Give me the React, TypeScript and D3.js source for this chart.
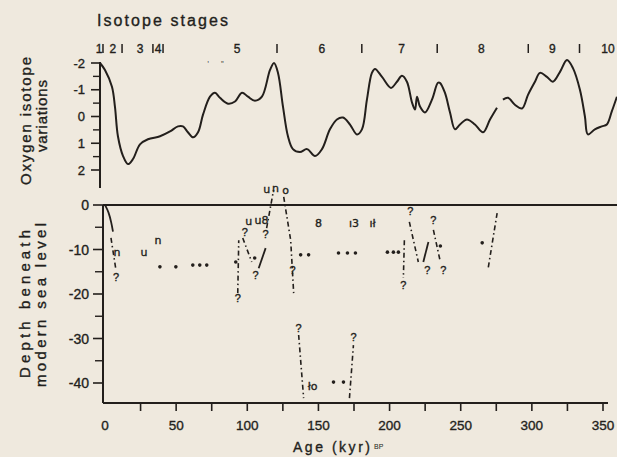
import React, { useEffect } from 'react';
import * as d3 from 'd3';

const W = 617;
const H = 457;
const INK = '#231f1c';
const PAPER = '#efe9de';
const FONT = '"Liberation Sans", Arial, sans-serif';

// Oxygen isotope curve (two pieces, the printed line has a small gap near 280 kyr)
const oxygenAgesA = [0, 3.5, 8.4, 10.5, 12.6, 16.2, 19.7, 23.2, 28.1, 33.7, 42.2, 49.2, 54.8, 58.3, 61.8, 65.4, 68.9, 72.4, 77.3, 80.8, 84.3, 90.0, 94.9, 99.8, 104.0, 108.9, 113.8, 119.5, 122.3, 125.1, 128.6, 132.1, 135.6, 140.5, 145.5, 151.1, 156.0, 161.6, 166.5, 170.8, 175.7, 180.6, 184.1, 187.6, 191.1, 193.3, 198.2, 204.5, 208.7, 212.2, 215.7, 219.3, 221.4, 222.8, 224.9, 228.4, 233.3, 237.5, 238.9, 242.4, 246.0, 249.5, 253.0, 257.9, 263.5, 269.2, 274.1, 279.0];
const oxygenValuesA = [-2.0, -1.74, -1.11, -0.37, 0.74, 1.48, 1.78, 1.59, 1.04, 0.85, 0.74, 0.56, 0.37, 0.37, 0.59, 0.78, 0.59, -0.07, -0.74, -0.89, -0.7, -0.48, -0.56, -0.89, -0.74, -0.59, -0.74, -1.74, -2.0, -1.63, -0.37, 0.74, 1.22, 1.33, 1.22, 1.48, 1.22, 0.48, 0.11, 0.04, 0.3, 0.67, 0.48, -0.63, -1.63, -1.78, -1.48, -1.07, -1.3, -1.52, -1.3, -0.52, -0.26, -0.74, -0.37, -0.15, -0.63, -1.26, -1.26, -0.89, -0.15, 0.48, 0.3, 0.11, 0.3, 0.59, 0.11, -0.33];
const oxygenAgesB = [283.2, 286.7, 291.6, 296.6, 300.8, 305.7, 309.2, 314.1, 318.3, 323.3, 328.2, 332.4, 337.3, 340.8, 342.9, 347.8, 352.7, 356.2, 359.7, 363.3];
const oxygenValuesB = [-0.63, -0.7, -0.44, -0.3, -0.81, -1.3, -1.63, -1.48, -1.3, -1.67, -2.11, -1.81, -1.0, 0.0, 0.67, 0.48, 0.37, 0.3, -0.19, -0.74];

// Isotope stages
const stageLabels = ['1', '2', '3', '4', '5', '6', '7', '8', '9', '10'];
const stageLabelAges = [-0.7, 9.1, 28.1, 40.8, 96.3, 156, 212, 268, 318, 357];
const stageBoundaryAges = [2.1, 15.5, 37.2, 44.3, 124.4, 184, 237, 301, 337];
const substageMarkAges = [76, 86];

// Axis ticks
const oxygenTicks = [-2, -1, 0, 1, 2];
const oxygenTickLabels = ['-2', '-1', '0', '1', '2'];
const oxygenMinorTicks = [-1.5, -0.5, 0.5, 1.5];
const depthTicks = [0, -10, -20, -30, -40];
const depthTickLabels = ['0', '-10', '-20', '-30', '-40'];
const depthMinorTicks = [-5, -15, -25, -35];
const ageTicks = [0, 50, 100, 150, 200, 250, 300, 350];
const ageMinorTicks = [25, 50, 75, 100, 125, 150, 175, 200, 225, 250, 275, 300, 325, 350];

// Sea-level evidence
const solidAges = [[0, 2.5, 4.5, 5.6], [108.0, 112.9], [223.7, 227.3]];
const solidDepths = [[0, -1.5, -4.0, -6.0], [-14.2, -9.7], [-12.8, -8.3]];

const dashedAges = [
  [4.2, 7.7], [93.3, 94.0], [96.8, 103.1], [113.6, 118.5], [125.6, 130.5, 132.6],
  [136.1, 139.6], [171.8, 174.6], [210.4, 209.7], [213.9, 220.2], [230.8, 235.7], [275.6, 269.3],
];
const dashedDepths = [
  [-7.4, -14.6], [-19.8, -7.9], [-7.4, -12.8], [-5.2, 3.4], [1.8, -7.9, -19.8],
  [-29.2, -43.4], [-43.4, -31.5], [-7.9, -16.4], [-3.8, -12.8], [-5.6, -12.8], [-1.8, -14.2],
];

const dotAges = [38.6, 49.8, 61.7, 66.6, 71.5, 91.9, 105.2, 137.5, 143.1, 164.1, 170.4, 176.0, 198.5, 202.7, 206.2, 235.7, 265.1, 160.6, 167.6];
const dotDepths = [-13.9, -13.9, -13.5, -13.5, -13.5, -12.8, -11.9, -11.2, -11.2, -10.8, -10.8, -10.8, -10.6, -10.6, -10.6, -9.2, -8.5, -39.8, -39.8];

const glyphAges = [8.4, 27.4, 37.2, 101, 110.0, 113.6, 119.9, 127, 150.1, 172.5, 176, 188, 145.9];
const glyphDepths = [-10.6, -10.6, -7.9, -3.6, -3.5, 3.6, 3.8, 3.4, -4.0, -4.0, -4.0, -4.0, -40.7];
const glyphTexts = ['n', 'u', 'n', 'u', 'u8', 'u', 'n', 'o', '8', 'ı', '3', 'ıł', 'ło'];

const queryAges = [7.7, 98.2, 112.9, 105.9, 93.3, 131.9, 136.1, 174.7, 209.7, 214.6, 226.6, 230.8, 237.8];
const queryDepths = [-16.2, -6.1, -6.5, -15.7, -20.9, -14.6, -27.6, -29.7, -18.0, -1.3, -14.6, -3.4, -14.6];

export default function App() {
  useEffect(() => {
    document.body.style.margin = '0';
    document.body.style.background = PAPER;
  }, []);

  const xTop = d3.scaleLinear().domain([0, 350]).range([100, 598]);
  const yTop = d3.scaleLinear().domain([-2, 2]).range([63, 170]);
  const xLow = d3.scaleLinear().domain([0, 350]).range([105, 603]);
  const yLow = d3.scaleLinear().domain([0, -40]).range([205, 383]);

  const topAxisX = 100;
  const topAxisBottom = 188;
  const lowAxisX = 103;
  const lowAxisBottom = 403;

  const curve = d3
    .line<[number, number]>()
    .x((d) => xTop(d[0]))
    .y((d) => yTop(d[1]))
    .curve(d3.curveCatmullRom.alpha(0.5));
  const lowLine = d3
    .line<[number, number]>()
    .x((d) => xLow(d[0]))
    .y((d) => yLow(d[1]));
  const lowCurve = d3
    .line<[number, number]>()
    .x((d) => xLow(d[0]))
    .y((d) => yLow(d[1]))
    .curve(d3.curveBasis);

  const pathA = curve(d3.zip(oxygenAgesA, oxygenValuesA) as [number, number][]) || '';
  const pathB = curve(d3.zip(oxygenAgesB, oxygenValuesB) as [number, number][]) || '';

  const txt = { fill: INK, stroke: INK, strokeWidth: 0.35 };

  return (
    <svg width={W} height={H} style={{ display: 'block', background: PAPER }} fontFamily={FONT}>
      <rect x={0} y={0} width={W} height={H} fill={PAPER} />

      {/* Title and stage row */}
      <text x={97} y={26} fontSize={16} {...txt} textLength={131} lengthAdjust="spacing">
        Isotope stages
      </text>
      {stageLabels.map((s, i) => (
        <text key={'sl' + i} x={xTop(stageLabelAges[i])} y={53} fontSize={12} {...txt} textAnchor="middle">
          {s}
        </text>
      ))}
      {stageBoundaryAges.map((a, i) => (
        <line key={'sb' + i} x1={xTop(a)} x2={xTop(a)} y1={44} y2={53} stroke={INK} strokeWidth={1.5} />
      ))}
      {substageMarkAges.map((a, i) => (
        <text key={'ss' + i} x={xTop(a)} y={62} fontSize={8} fill={INK} textAnchor="middle">
          {i === 0 ? '‚' : '„'}
        </text>
      ))}

      {/* Upper panel axis */}
      <line x1={topAxisX} x2={topAxisX} y1={yTop(-2) - 1} y2={topAxisBottom} stroke={INK} strokeWidth={2} />
      {oxygenTicks.map((t, i) => (
        <g key={'ot' + i}>
          <line x1={topAxisX - 9} x2={topAxisX} y1={yTop(t)} y2={yTop(t)} stroke={INK} strokeWidth={1.6} />
          <text x={85} y={yTop(t)} dy="0.36em" fontSize={13} {...txt} textAnchor="end">
            {oxygenTickLabels[i]}
          </text>
        </g>
      ))}
      {oxygenMinorTicks.map((t, i) => (
        <line key={'om' + i} x1={topAxisX - 7} x2={topAxisX} y1={yTop(t)} y2={yTop(t)} stroke={INK} strokeWidth={1.4} />
      ))}
      <path d={pathA} fill="none" stroke={INK} strokeWidth={2} strokeLinejoin="round" />
      <path d={pathB} fill="none" stroke={INK} strokeWidth={2} strokeLinejoin="round" />

      {/* Upper y label */}
      <text transform="translate(31,121) rotate(-90)" fontSize={15} {...txt} textAnchor="middle" textLength={128} lengthAdjust="spacing">
        Oxygen isotope
      </text>
      <text transform="translate(47,116) rotate(-90)" fontSize={15} {...txt} textAnchor="middle" textLength={72} lengthAdjust="spacing">
        variations
      </text>

      {/* Lower panel frame */}
      <line x1={lowAxisX} x2={W} y1={yLow(0)} y2={yLow(0)} stroke={INK} strokeWidth={2} />
      <line x1={lowAxisX} x2={lowAxisX} y1={yLow(0)} y2={lowAxisBottom} stroke={INK} strokeWidth={2} />
      <line x1={lowAxisX} x2={608} y1={lowAxisBottom} y2={lowAxisBottom} stroke={INK} strokeWidth={2} />
      {depthTicks.map((t, i) => (
        <g key={'dt' + i}>
          <line x1={lowAxisX - 10} x2={lowAxisX} y1={yLow(t)} y2={yLow(t)} stroke={INK} strokeWidth={1.6} />
          <text x={89} y={yLow(t)} dy="0.36em" fontSize={14} {...txt} textAnchor="end">
            {depthTickLabels[i]}
          </text>
        </g>
      ))}
      {depthMinorTicks.map((t, i) => (
        <line key={'dm' + i} x1={lowAxisX - 8} x2={lowAxisX} y1={yLow(t)} y2={yLow(t)} stroke={INK} strokeWidth={1.4} />
      ))}
      {ageMinorTicks.map((t, i) => (
        <line key={'am' + i} x1={xLow(t)} x2={xLow(t)} y1={lowAxisBottom} y2={lowAxisBottom + 8} stroke={INK} strokeWidth={1.6} />
      ))}
      {ageTicks.map((t, i) => (
        <text key={'al' + i} x={xLow(t)} y={430} fontSize={13.5} {...txt} textAnchor="middle">
          {String(t)}
        </text>
      ))}
      <text x={293} y={452} fontSize={14} {...txt} textLength={77} lengthAdjust="spacing">
        Age (kyr)
      </text>
      <text x={374} y={449} fontSize={7} fill={INK}>
        BP
      </text>

      {/* Lower y label */}
      <text transform="translate(30,304) rotate(-90)" fontSize={15} {...txt} textAnchor="middle" textLength={148} lengthAdjust="spacing">
        Depth beneath
      </text>
      <text transform="translate(46,305) rotate(-90)" fontSize={15} {...txt} textAnchor="middle" textLength={164} lengthAdjust="spacing">
        modern sea level
      </text>

      {/* Sea level evidence */}
      {solidAges.map((ages, i) => (
        <path
          key={'sl' + i}
          d={(i === 0 ? lowCurve : lowLine)(d3.zip(ages, solidDepths[i]) as [number, number][]) || ''}
          fill="none"
          stroke={INK}
          strokeWidth={1.8}
        />
      ))}
      {dashedAges.map((ages, i) => (
        <path
          key={'dl' + i}
          d={lowLine(d3.zip(ages, dashedDepths[i]) as [number, number][]) || ''}
          fill="none"
          stroke={INK}
          strokeWidth={1.6}
          strokeDasharray="5 3 1.5 3"
        />
      ))}
      {dotAges.map((a, i) => (
        <circle key={'dot' + i} cx={xLow(a)} cy={yLow(dotDepths[i])} r={1.8} fill={INK} />
      ))}
      {glyphAges.map((a, i) => (
        <text
          key={'g' + i}
          x={xLow(a)}
          y={yLow(glyphDepths[i])}
          dy="0.35em"
          fontSize={11}
          fontFamily='"DejaVu Sans", sans-serif'
          {...txt}
          textAnchor="middle"
        >
          {glyphTexts[i]}
        </text>
      ))}
      {queryAges.map((a, i) => (
        <text
          key={'q' + i}
          x={xLow(a)}
          y={yLow(queryDepths[i])}
          dy="0.35em"
          fontSize={11}
          {...txt}
          textAnchor="middle"
        >
          ?
        </text>
      ))}
    </svg>
  );
}
